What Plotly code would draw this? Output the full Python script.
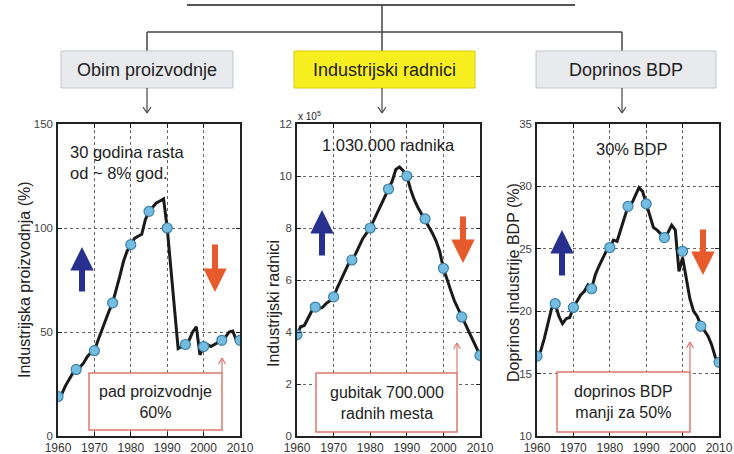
import plotly.graph_objects as go

# ---------------- data ----------------
years = list(range(1960, 2011))
marker_years = [1960, 1965, 1970, 1975, 1980, 1985, 1990, 1995, 2000, 2005, 2010]

# Panel 1: Industrijska proizvodnja (%)
prod_line = [19, 20, 24, 27, 30, 32, 33, 35, 38, 40, 41,
             46, 51, 56, 60, 64, 70, 77, 84, 89, 92,
             95, 96, 97, 104, 108, 110, 112, 113, 114, 100,
             80, 60, 42, 43, 44, 46, 50, 52.5, 39, 43,
             44, 43, 44, 45, 46, 47.5, 50, 50.5, 46, 46]
prod_marks = [19, 32, 41, 64, 92, 108, 100, 44, 43, 46, 46]

# Panel 2: Industrijski radnici (x 10^5)
work_line = [3.9, 4.2, 4.25, 4.5, 4.8, 4.96, 4.9, 4.95, 5.1, 5.2, 5.35,
             5.7, 6.0, 6.3, 6.6, 6.77, 7.0, 7.3, 7.6, 7.8, 8.0,
             8.3, 8.6, 8.9, 9.2, 9.5, 9.8, 10.25, 10.35, 10.2, 10.0,
             9.5, 9.1, 8.8, 8.55, 8.35, 8.1, 7.8, 7.5, 7.1, 6.45,
             6.0, 5.6, 5.2, 4.9, 4.58, 4.3, 4.0, 3.7, 3.4, 3.1]
work_marks = [3.9, 4.96, 5.35, 6.77, 8.0, 9.5, 10.0, 8.35, 6.45, 4.58, 3.1]

# Panel 3: Doprinos industrije BDP (%)
gdp_line = [16.4, 16.8, 17.8, 19.0, 20.2, 20.6, 19.6, 19.0, 19.4, 19.5, 20.3,
            20.8, 21.3, 21.6, 22.1, 21.8, 22.9, 23.6, 24.2, 24.8, 25.1,
            25.7, 25.6, 26.5, 27.5, 28.4, 28.6, 29.2, 29.9, 29.6, 28.6,
            27.5, 26.7, 26.5, 26.2, 25.9, 26.3, 26.9, 26.5, 23.2, 24.3,
            22.5, 21.0, 20.0, 19.6, 18.9, 18.5, 18.0, 17.3, 16.3, 15.9]
gdp_marks = [16.4, 20.6, 20.3, 21.8, 25.1, 28.4, 28.6, 25.9, 24.8, 18.8, 15.9]

x_ticks = [1960, 1970, 1980, 1990, 2000, 2010]
y_ranges = [[0, 150], [0, 12], [10, 35]]
y_ticks = [[0, 50, 100, 150], [0, 2, 4, 6, 8, 10, 12], [10, 15, 20, 25, 30, 35]]
y_titles = ["Industrijska proizvodnja (%)", "Industrijski radnici", "Doprinos industrije BDP (%)"]
headers = ["Obim proizvodnje", "Industrijski radnici", "Doprinos BDP"]
top_notes = ["30 godina rasta<br>od ~ 8% god.", "1.030.000 radnika", "30% BDP"]
box_notes = ["pad proizvodnje<br>60%", "gubitak 700.000<br>radnih mesta", "doprinos BDP<br>manji za 50%"]

# ---------------- layout geometry ----------------
W, H = 734, 454
FONT = "Liberation Sans, Arial"

def px(x):
    return x / W

def py(y):
    return 1 - y / H

x_dom = [(58, 240), (297, 480), (537, 719)]
y_top, y_bot = 124, 436

fig = go.Figure()
series = [(prod_line, prod_marks), (work_line, work_marks), (gdp_line, gdp_marks)]
for i, (ln, mk) in enumerate(series):
    xa = "x" if i == 0 else f"x{i+1}"
    ya = "y" if i == 0 else f"y{i+1}"
    fig.add_trace(go.Scatter(x=years, y=ln, mode="lines", xaxis=xa, yaxis=ya,
                             line=dict(color="#1a1a1a", width=3), showlegend=False,
                             hoverinfo="skip"))
    fig.add_trace(go.Scatter(x=marker_years, y=mk, mode="markers", xaxis=xa, yaxis=ya,
                             marker=dict(color="#74bde0", size=10,
                                         line=dict(color="#3c7fa8", width=1.2)),
                             showlegend=False))

layout = dict(width=W, height=H,
              margin=dict(l=0, r=0, t=0, b=0, autoexpand=False),
              paper_bgcolor="white", plot_bgcolor="white",
              font=dict(family=FONT, color="#222"))

for i in range(3):
    xk = "xaxis" if i == 0 else f"xaxis{i+1}"
    yk = "yaxis" if i == 0 else f"yaxis{i+1}"
    ya = "y" if i == 0 else f"y{i+1}"
    xa = "x" if i == 0 else f"x{i+1}"
    layout[xk] = dict(domain=[px(x_dom[i][0]), px(x_dom[i][1])], anchor=ya,
                      range=[1960, 2010], tickvals=x_ticks, ticks="inside", ticklen=4,
                      tickcolor="#222", showline=True, linecolor="#222", linewidth=1.5,
                      mirror="ticks", showgrid=True, gridcolor="#666", griddash="dot",
                      gridwidth=0.8, zeroline=False, automargin=False,
                      tickfont=dict(size=12, color="#333", family=FONT))
    layout[yk] = dict(domain=[py(y_bot), py(y_top)], anchor=xa,
                      range=y_ranges[i], tickvals=y_ticks[i], ticks="inside", ticklen=4,
                      tickcolor="#222", showline=True, linecolor="#222", linewidth=1.5,
                      mirror="ticks", showgrid=True, gridcolor="#666", griddash="dot",
                      gridwidth=0.8, zeroline=False, ticklabelstandoff=1, automargin=False,
                      tickfont=dict(size=11.5, color="#444", family=FONT))
fig.update_layout(**layout)

shapes = []
annots = []

def line(x0, y0, x1, y1, color="#444", width=1.5):
    shapes.append(dict(type="line", xref="paper", yref="paper",
                       x0=px(x0), y0=py(y0), x1=px(x1), y1=py(y1),
                       line=dict(color=color, width=width)))

def text(x, y, s, size, **kw):
    d = dict(xref="paper", yref="paper", x=px(x), y=py(y), text=s, showarrow=False,
             xanchor="center", yanchor="middle",
             font=dict(size=size, color="#222", family=FONT))
    d.update(kw)
    annots.append(d)

# connector tree
line(187, 5, 575, 5, "#555", 2)
line(382, 5, 382, 32)
line(147, 32, 622, 32)
for cx in (147, 382, 622):
    line(cx, 32, cx, 52)

# header boxes
box_x = [(61, 233), (294, 475), (536, 716)]
fills = ["#e9eaee", "#f7ef1f", "#e9eaee"]
borders = ["#c4c6cc", "#d6cc10", "#c4c6cc"]
for i in range(3):
    shapes.append(dict(type="rect", xref="paper", yref="paper",
                       x0=px(box_x[i][0]), x1=px(box_x[i][1]), y0=py(88), y1=py(51),
                       fillcolor=fills[i], line=dict(color=borders[i], width=1)))
    text((box_x[i][0] + box_x[i][1]) / 2, 70, headers[i], 18)

# small down arrows under headers
for cx in (147, 382, 622):
    line(cx, 88, cx, 113, "#444", 1.2)
    line(cx - 4, 107, cx, 113, "#444", 1.2)
    line(cx + 4, 107, cx, 113, "#444", 1.2)

# top notes
text(68, 162, top_notes[0], 16.5, xanchor="left", align="left")
text(388, 145, top_notes[1], 16.5)
text(632, 149, top_notes[2], 16.5)

# y titles
title_pos = [(24, 280), (273, 304), (513, 283)]
for i in range(3):
    text(title_pos[i][0], title_pos[i][1], y_titles[i], 16, textangle=-90)

# x 10^5
text(296, 116, "x 10<sup>5</sup>", 10, xanchor="left")

# big blue / red arrows (tip x, tip y, tail y)
blue = [(82, 247, 293), (322, 210, 257), (562, 230, 277)]
red = [(215, 292, 243), (463, 263, 215), (703, 275, 228)]
for (x, yt, yb) in blue:
    annots.append(dict(xref="paper", yref="paper", x=px(x), y=py(yt), ax=0, ay=yb - yt,
                       axref="pixel", ayref="pixel", text="", showarrow=True,
                       arrowhead=2, arrowsize=0.78, arrowwidth=6, arrowcolor="#27308f"))
for (x, yt, yb) in red:
    annots.append(dict(xref="paper", yref="paper", x=px(x), y=py(yt), ax=0, ay=yb - yt,
                       axref="pixel", ayref="pixel", text="", showarrow=True,
                       arrowhead=2, arrowsize=0.78, arrowwidth=6, arrowcolor="#e65a2c"))

# red note boxes
rbox = [(89, 222, 373, 430), (316, 457, 373, 432), (557, 690, 372, 432)]
arrow_tip = [358, 343, 342]
for i, (x0, x1, y0, y1) in enumerate(rbox):
    shapes.append(dict(type="rect", xref="paper", yref="paper",
                       x0=px(x0), x1=px(x1), y0=py(y1), y1=py(y0),
                       fillcolor="white", line=dict(color="#dc7a6e", width=1.5)))
    text((x0 + x1) / 2, (y0 + y1) / 2, box_notes[i], 16)
    t = arrow_tip[i]
    line(x1, y0, x1, t, "#dc7a6e", 1.2)
    line(x1 - 3.5, t + 6, x1, t, "#dc7a6e", 1.2)
    line(x1 + 3.5, t + 6, x1, t, "#dc7a6e", 1.2)

fig.update_layout(shapes=shapes, annotations=annots)
fig.write_html("out.html", config={"displayModeBar": False},
               post_script="document.body.style.margin='0';document.body.style.overflow='hidden';")
